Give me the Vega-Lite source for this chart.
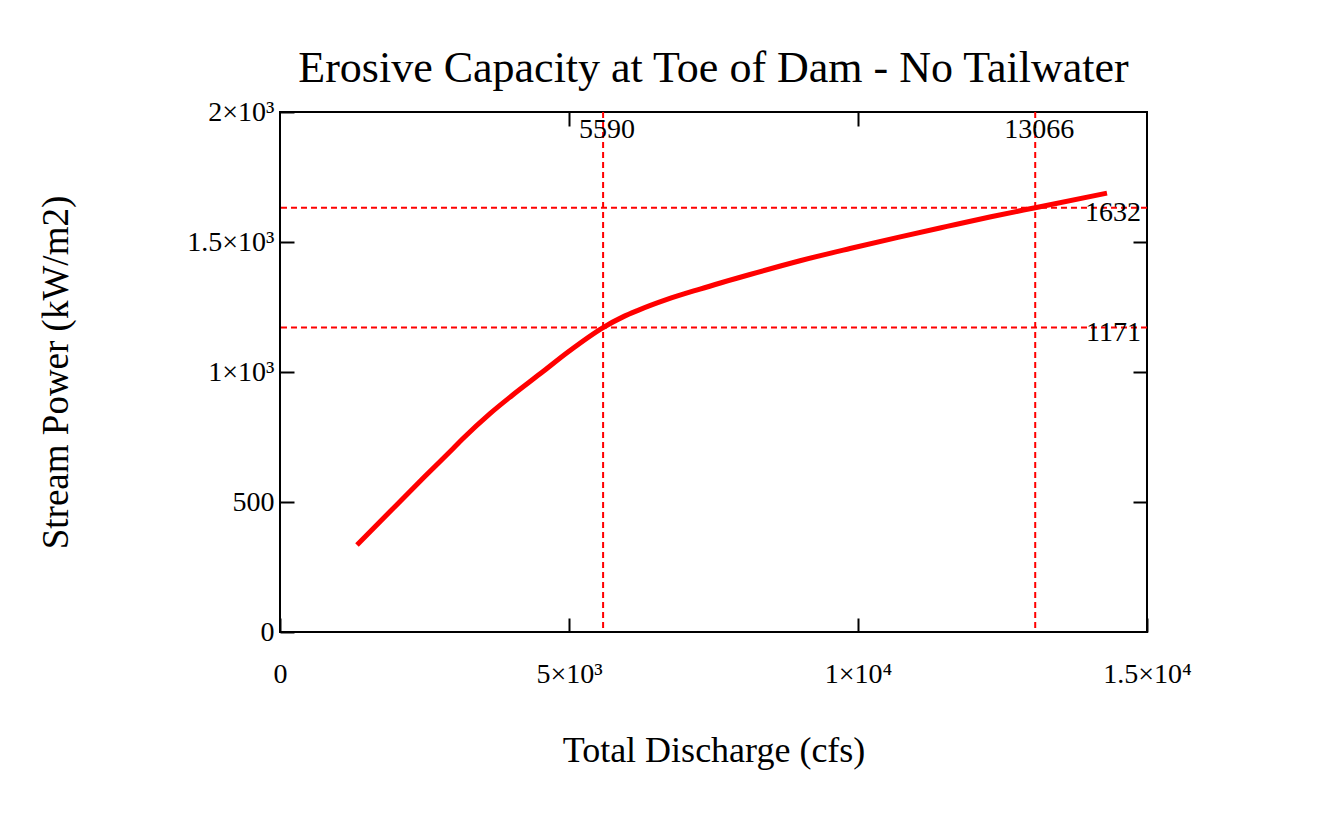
{
  "$schema": "https://vega.github.io/schema/vega-lite/v6.json",
  "width": 867,
  "height": 520,
  "autosize": {"type": "none"},
  "padding": {"left": 280, "top": 112, "right": 174, "bottom": 185},
  "background": "white",
  "config": {"font": "Liberation Serif", "view": {"stroke": "black", "strokeWidth": 2}},
  "title": {"text": "Erosive Capacity at Toe of Dam - No Tailwater", "font": "Liberation Serif", "fontSize": 44, "fontWeight": "normal", "color": "black", "anchor": "middle", "baseline": "alphabetic", "offset": -28},
  "datasets": {
    "curve": [
      {"Q": 1332, "P": 335}, {"Q": 2000, "P": 485}, {"Q": 2500, "P": 597}, {"Q": 3000, "P": 707},
      {"Q": 3166, "P": 744}, {"Q": 3633, "P": 840}, {"Q": 4000, "P": 907}, {"Q": 4500, "P": 993},
      {"Q": 5000, "P": 1080}, {"Q": 5590, "P": 1171}, {"Q": 5934, "P": 1212}, {"Q": 6194, "P": 1237},
      {"Q": 6696, "P": 1279}, {"Q": 7266, "P": 1319}, {"Q": 8131, "P": 1375}, {"Q": 8997, "P": 1428},
      {"Q": 9862, "P": 1475}, {"Q": 10692, "P": 1518}, {"Q": 11540, "P": 1560}, {"Q": 12300, "P": 1597},
      {"Q": 13066, "P": 1632}, {"Q": 14308, "P": 1688}
    ],
    "vref": [{"Q": 5590}, {"Q": 13066}],
    "href": [{"P": 1171}, {"P": 1632}]
  },
  "layer": [
    {
      "data": {"name": "vref"},
      "mark": {"type": "rule", "color": "#ff0000", "strokeDash": [6, 4], "strokeWidth": 2},
      "encoding": {
        "x": {"field": "Q", "type": "quantitative", "scale": {"domain": [0, 15000], "nice": false, "zero": false},
          "axis": {"orient": "top", "values": [5000, 10000], "labels": false, "tickSize": -14, "tickWidth": 2, "tickColor": "black", "domain": false, "grid": false, "title": null}}
      }
    },
    {
      "data": {"name": "href"},
      "mark": {"type": "rule", "color": "#ff0000", "strokeDash": [6, 4], "strokeWidth": 2},
      "encoding": {
        "y": {"field": "P", "type": "quantitative", "scale": {"domain": [0, 2000], "nice": false, "zero": false},
          "axis": {"orient": "right", "values": [500, 1000, 1500], "labels": false, "tickSize": -14, "tickWidth": 2, "tickColor": "black", "domain": false, "grid": false, "title": null}}
      }
    },
    {
      "data": {"name": "curve"},
      "mark": {"type": "line", "color": "#ff0000", "strokeWidth": 5, "interpolate": "monotone"},
      "encoding": {
        "x": {"field": "Q", "type": "quantitative",
          "axis": {"orient": "bottom", "values": [0, 5000, 10000, 15000],
            "labelExpr": "datum.value == 0 ? '0' : datum.value == 5000 ? '5×10³' : datum.value == 10000 ? '1×10⁴' : '1.5×10⁴'",
            "tickSize": -14, "tickWidth": 2, "tickColor": "black", "domain": false, "grid": false,
            "labelFont": "Liberation Serif", "labelFontSize": 28, "labelColor": "black", "labelPadding": 64, "labelBaseline": "alphabetic", "labelFlush": false, "labelOverlap": false,
            "title": "Total Discharge (cfs)", "titleFont": "Liberation Serif", "titleFontSize": 36, "titleFontWeight": "normal", "titleColor": "black",
            "titleX": 433.5, "titleY": 118, "titleBaseline": "middle", "titleAlign": "center"}},
        "y": {"field": "P", "type": "quantitative",
          "axis": {"orient": "left", "values": [0, 500, 1000, 1500, 2000],
            "labelExpr": "datum.value == 0 ? '0' : datum.value == 500 ? '500' : datum.value == 1000 ? '1×10³' : datum.value == 1500 ? '1.5×10³' : '2×10³'",
            "tickSize": -14, "tickWidth": 2, "tickColor": "black", "domain": false, "grid": false,
            "labelFont": "Liberation Serif", "labelFontSize": 28, "labelColor": "black", "labelPadding": 20, "labelBaseline": "middle", "labelFlush": false, "labelOverlap": false,
            "title": "Stream Power (kW/m2)", "titleFont": "Liberation Serif", "titleFontSize": 37, "titleFontWeight": "normal", "titleColor": "black",
            "titleX": -224, "titleY": 260, "titleAngle": -90, "titleBaseline": "middle", "titleAlign": "center"}}
      }
    },
    {
      "data": {"name": "vref"},
      "mark": {"type": "text", "font": "Liberation Serif", "fontSize": 28, "color": "black", "align": "center", "baseline": "top", "dy": 4, "dx": 4},
      "encoding": {
        "x": {"field": "Q", "type": "quantitative", "axis": null},
        "y": {"datum": 2000, "type": "quantitative", "axis": null},
        "text": {"field": "Q", "type": "quantitative", "format": "d"}
      }
    },
    {
      "data": {"name": "href"},
      "mark": {"type": "text", "font": "Liberation Serif", "fontSize": 28, "color": "black", "align": "right", "baseline": "middle", "dy": 5, "dx": -6},
      "encoding": {
        "x": {"datum": 15000, "type": "quantitative", "axis": null},
        "y": {"field": "P", "type": "quantitative", "axis": null},
        "text": {"field": "P", "type": "quantitative", "format": "d"}
      }
    }
  ],
  "resolve": {"axis": {"x": "independent", "y": "independent"}}
}
